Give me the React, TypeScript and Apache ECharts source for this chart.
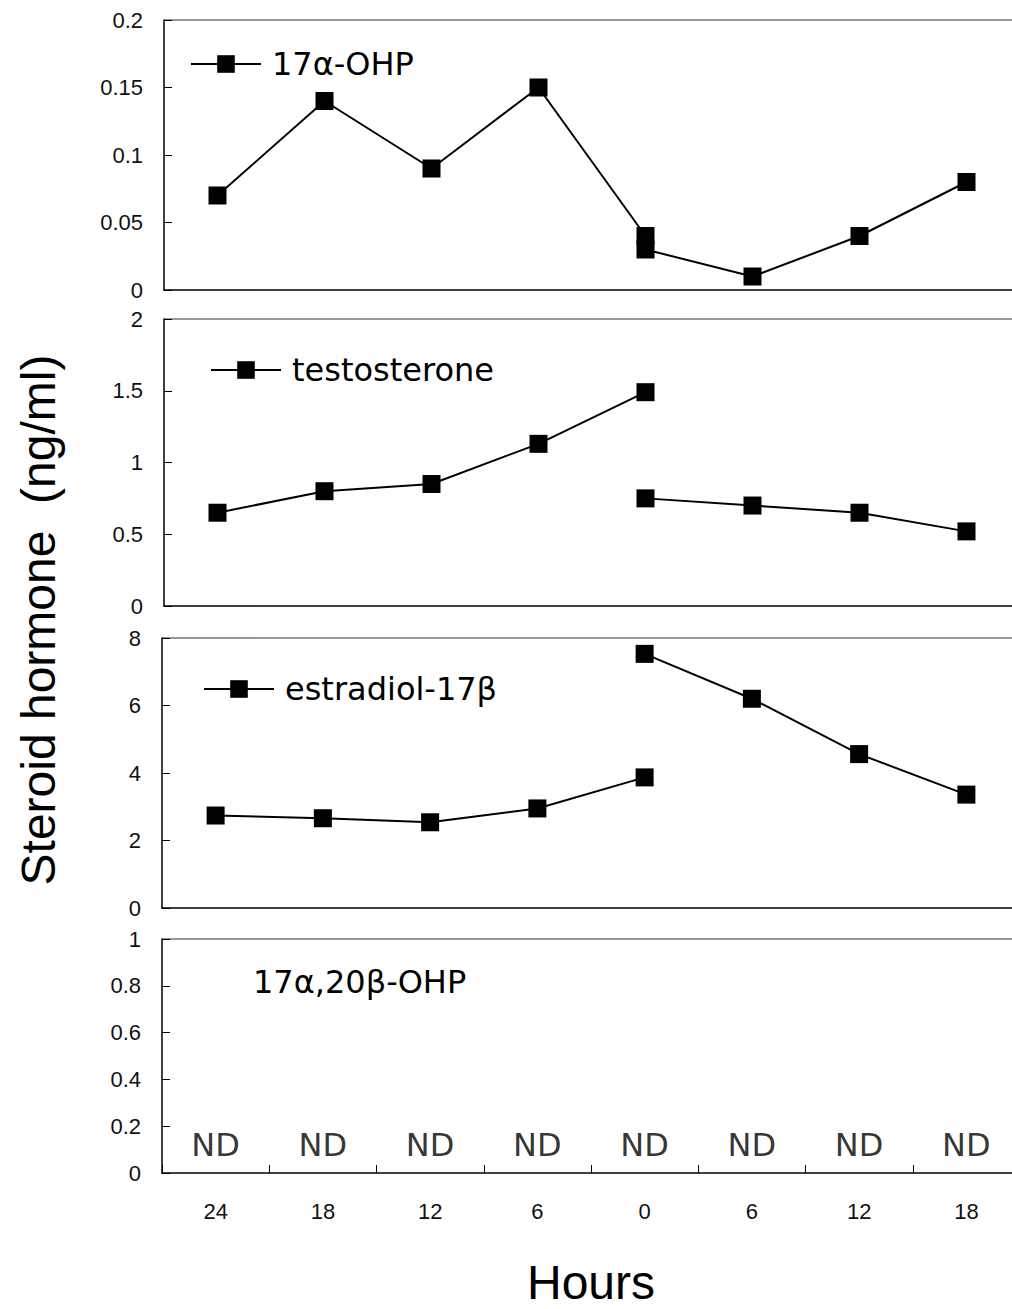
import React, { useEffect, useRef } from "react";
import * as echarts from "echarts";

const hours = ["24", "18", "12", "6", "0", "6", "12", "18"];

// 17α-OHP (ng/ml): before and after the 0 h point
const ohpBefore = [0.07, 0.14, 0.09, 0.15, 0.04, null, null, null];
const ohpAfter = [null, null, null, null, 0.03, 0.01, 0.04, 0.08];

// testosterone (ng/ml)
const testoBefore = [0.65, 0.8, 0.85, 1.13, 1.49, null, null, null];
const testoAfter = [null, null, null, null, 0.75, 0.7, 0.65, 0.52];

// estradiol-17β (ng/ml)
const e2Before = [2.74, 2.66, 2.54, 2.95, 3.87, null, null, null];
const e2After = [null, null, null, null, 7.53, 6.2, 4.56, 3.36];

// 17α,20β-OHP: not detected at any time
const dhpLabels = ["ND", "ND", "ND", "ND", "ND", "ND", "ND", "ND"];

const yMax = [0.2, 2, 8, 1];
const yInterval = [0.05, 0.5, 2, 0.2];
const names = ["17α-OHP", "testosterone", "estradiol-17β"];

const FONT = "'Liberation Sans', Arial, sans-serif";
const FONT2 = "'DejaVu Sans', sans-serif";
const ND_LEVEL = 0.12;

export default function App() {
  const ref = useRef<HTMLDivElement>(null);

  useEffect(() => {
    if (!ref.current) return;
    document.body.style.overflow = "hidden";
    const chart = echarts.init(ref.current, null, { renderer: "svg" });

    const grids = [
      { left: 164, top: 20, width: 856, height: 270 },
      { left: 164, top: 319, width: 856, height: 287 },
      { left: 162, top: 638, width: 858, height: 270 },
      { left: 162, top: 939, width: 858, height: 234 },
    ];

    const xAxes: any[] = [];
    const yAxes: any[] = [];
    grids.forEach((g, i) => {
      const last = i === 3;
      xAxes.push({
        type: "category",
        gridIndex: i,
        data: hours,
        position: "bottom",
        boundaryGap: true,
        axisLine: { lineStyle: { color: "#000", width: 1.5 } },
        axisTick: {
          show: last,
          inside: true,
          length: 8,
          lineStyle: { color: "#000", width: 1 },
        },
        axisLabel: {
          show: last,
          color: "#111",
          fontSize: 22,
          fontFamily: FONT,
          margin: 27,
        },
        splitLine: { show: false },
        name: last ? "Hours" : "",
        nameLocation: "middle",
        nameGap: 85,
        nameTextStyle: { fontSize: 48, fontFamily: FONT, color: "#000" },
      });
      xAxes.push({
        type: "category",
        gridIndex: i,
        data: hours,
        position: "top",
        axisLine: { lineStyle: { color: "#777", width: 1.5 } },
        axisTick: { show: false },
        axisLabel: { show: false },
        splitLine: { show: false },
      });
      yAxes.push({
        type: "value",
        gridIndex: i,
        min: 0,
        max: yMax[i],
        interval: yInterval[i],
        axisLine: { show: true, lineStyle: { color: "#000", width: 1.5 } },
        axisTick: {
          show: true,
          inside: true,
          length: 8,
          lineStyle: { color: "#000" },
        },
        axisLabel: {
          color: "#111",
          fontSize: 22,
          fontFamily: FONT,
          margin: 21,
        },
        splitLine: { show: false },
      });
    });

    const lineSeries = (name: string, data: any[], idx: number) => ({
      type: "line",
      name,
      xAxisIndex: idx * 2,
      yAxisIndex: idx,
      data,
      connectNulls: false,
      symbol: "rect",
      symbolSize: 18,
      lineStyle: { color: "#000", width: 2 },
      itemStyle: { color: "#000" },
      z: 3,
    });

    const series: any[] = [
      lineSeries(names[0], ohpBefore, 0),
      lineSeries(names[0], ohpAfter, 0),
      lineSeries(names[1], testoBefore, 1),
      lineSeries(names[1], testoAfter, 1),
      lineSeries(names[2], e2Before, 2),
      lineSeries(names[2], e2After, 2),
      {
        type: "scatter",
        name: "17α,20β-OHP",
        xAxisIndex: 6,
        yAxisIndex: 3,
        symbolSize: 0,
        data: dhpLabels.map((lab, i) => ({ value: [i, ND_LEVEL] })),
        label: {
          show: true,
          position: "inside",
          formatter: (p: any) => dhpLabels[p.dataIndex],
          fontSize: 32,
          fontFamily: FONT2,
          color: "#000",
        },
      },
    ];

    const legendPos = [
      { left: 190, cy: 63 },
      { left: 210, cy: 369 },
      { left: 203, cy: 688 },
    ];
    const legends = names.map((n, i) => ({
      data: [n],
      left: legendPos[i].left,
      top: legendPos[i].cy - 15,
      padding: 0,
      itemWidth: 70,
      itemHeight: 22,
      orient: "horizontal",
      selectedMode: false,
      textStyle: {
        fontSize: 32,
        lineHeight: 30,
        fontFamily: FONT2,
        color: "#000",
        padding: [0, 0, 0, 6],
      },
    }));

    chart.setOption({
      animation: false,
      backgroundColor: "#fff",
      grid: grids,
      xAxis: xAxes,
      yAxis: yAxes,
      legend: legends,
      series,
      graphic: [
        {
          type: "text",
          left: 253,
          top: 966,
          style: {
            text: "17α,20β-OHP",
            fontSize: 32,
            fontFamily: FONT2,
            fill: "#000",
          },
        },
        {
          type: "text",
          x: 38,
          y: 620,
          rotation: Math.PI / 2,
          style: {
            text: "Steroid hormone  (ng/ml)",
            fontSize: 48,
            fontFamily: FONT,
            fill: "#000",
            textAlign: "center",
            textVerticalAlign: "middle",
          },
        },
      ],
    });

    return () => chart.dispose();
  }, []);

  return (
    <div style={{ position: "absolute", left: 0, top: 0, width: 1012, height: 1309, overflow: "hidden" }}>
      <div ref={ref} style={{ width: 1030, height: 1309 }} />
    </div>
  );
}
